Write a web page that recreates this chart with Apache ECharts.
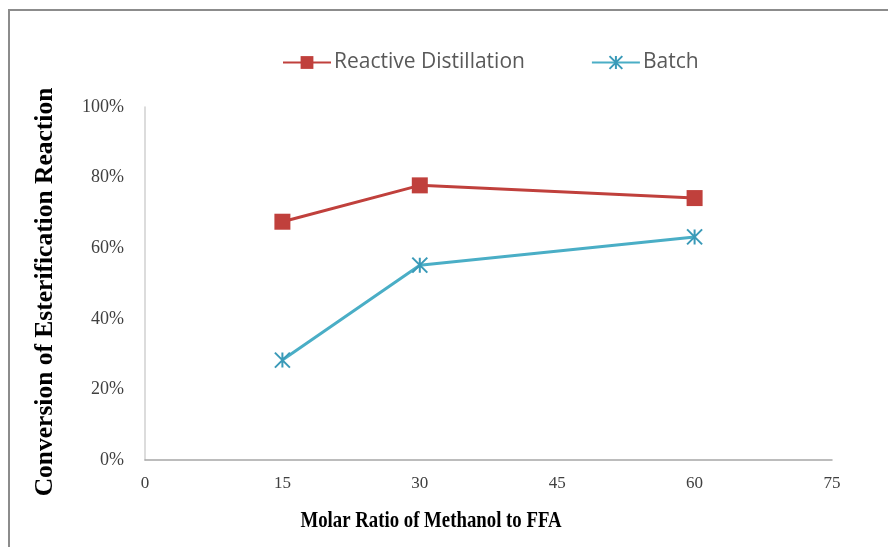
<!DOCTYPE html>
<html>
<head>
<meta charset="utf-8">
<script src="https://cdn.jsdelivr.net/npm/echarts@6/dist/echarts.min.js"></script>
<style>
  html, body { margin: 0; padding: 0; background: #fff; }
  #chart { width: 888px; height: 547px; }
</style>
</head>
<body>
<div id="chart"></div>
<script>
// Molar ratio of methanol to FFA (x) and esterification conversion (y, %)
const molarRatios = [15, 30, 60];
const reactiveDistillation = [67.5, 77.8, 74.2];
const batch = [28.3, 55.2, 63.2];
const xTicks = [0, 15, 30, 45, 60, 75];
const yTicks = [0, 20, 40, 60, 80, 100];
const xTitle = 'Molar Ratio of Methanol to FFA';
const yTitle = 'Conversion of Esterification Reaction';

const pair = (xs, ys) => xs.map((x, i) => [x, ys[i]]);

const asterisk = 'path://M0,0 L10,10 M10,0 L0,10 M5,0 L5,10';
const titleFont = 'Liberation Serif';

const chart = echarts.init(document.getElementById('chart'));
chart.setOption({
  animation: false,
  backgroundColor: '#ffffff',
  graphic: [
    {
      type: 'rect',
      shape: { x: 9, y: 10, width: 900, height: 560 },
      style: { fill: 'none', stroke: '#8c8c8c', lineWidth: 2 },
      silent: true
    },
    {
      // x-axis title, set in a condensed bold serif
      type: 'text',
      x: 431,
      y: 521,
      scaleX: 0.8,
      style: {
        text: xTitle,
        font: 'bold 23.5px "' + titleFont + '"',
        fill: '#000',
        align: 'center',
        verticalAlign: 'middle'
      },
      silent: true
    },
    {
      // y-axis title, rotated
      type: 'text',
      x: 45,
      y: 292,
      rotation: Math.PI / 2,
      style: {
        text: yTitle,
        font: 'bold 25.5px "' + titleFont + '"',
        fill: '#000',
        align: 'center',
        verticalAlign: 'middle'
      },
      silent: true
    }
  ],
  legend: {
    top: 47,
    left: 277,
    itemGap: 66,
    itemWidth: 48,
    itemHeight: 16,
    textStyle: { fontFamily: 'Open Sans', fontSize: 21, color: '#595959', padding: [0, 0, 0, -2] },
    data: ['Reactive Distillation', 'Batch']
  },
  grid: { left: 145, right: 56, top: 107, bottom: 87, containLabel: false },
  xAxis: {
    type: 'value',
    min: xTicks[0],
    max: xTicks[xTicks.length - 1],
    interval: 15,
    axisLine: { show: true, lineStyle: { color: '#a6a6a6', width: 1.5 } },
    axisTick: { show: false },
    splitLine: { show: false },
    axisLabel: { fontFamily: titleFont, fontSize: 17, color: '#404040', margin: 15 }
  },
  yAxis: {
    type: 'value',
    min: yTicks[0],
    max: yTicks[yTicks.length - 1],
    interval: 20,
    axisLine: { show: true, lineStyle: { color: '#d0d0d0', width: 1.5 } },
    axisTick: { show: false },
    splitLine: { show: false },
    axisLabel: { fontFamily: titleFont, fontSize: 18, color: '#404040', margin: 21, formatter: '{value}%' }
  },
  series: [
    {
      name: 'Reactive Distillation',
      type: 'line',
      data: pair(molarRatios, reactiveDistillation),
      symbol: 'rect',
      symbolSize: 16,
      lineStyle: { color: '#c0403c', width: 3 },
      itemStyle: { color: '#c0403c' }
    },
    {
      name: 'Batch',
      type: 'line',
      data: pair(molarRatios, batch),
      symbol: asterisk,
      symbolSize: 15,
      lineStyle: { color: '#4aaec6', width: 3 },
      itemStyle: { color: '#4aaec6', borderColor: '#3a9ab8', borderWidth: 2 }
    }
  ]
});
</script>
</body>
</html>
